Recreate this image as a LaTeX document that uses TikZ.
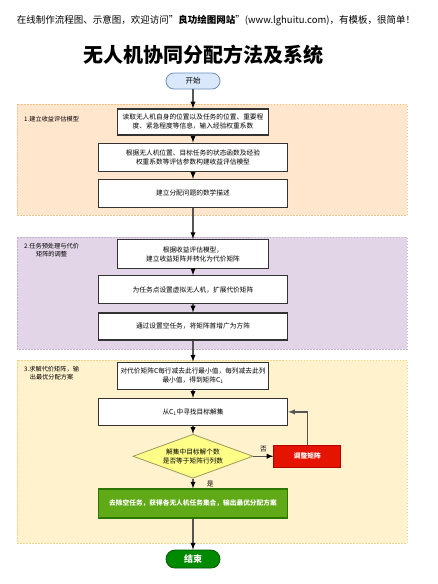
\documentclass[tikz,border=0pt]{standalone}
\usepackage{fontspec}
\setmainfont{Noto Sans CJK SC}
\usepackage{tikz}
\usetikzlibrary{matrix,arrows,positioning,shapes.geometric}

\definecolor{startblue}{HTML}{DAE8FC}
\definecolor{startline}{HTML}{6C8EBF}
\definecolor{boxline}{HTML}{333333}
\definecolor{flowgray}{HTML}{555555}
\definecolor{orangefill}{HTML}{FFE6CC}
\definecolor{orangeline}{HTML}{F2C28C}
\definecolor{purplefill}{HTML}{E1D5E7}
\definecolor{purpleline}{HTML}{C2AFD0}
\definecolor{yellowfill}{HTML}{FFF2CC}
\definecolor{yellowline}{HTML}{EDD68A}
\definecolor{decisionfill}{HTML}{FFFF88}
\definecolor{decisionline}{HTML}{9A9A5A}
\definecolor{adjustred}{HTML}{E51400}
\definecolor{adjustline}{HTML}{B20000}
\definecolor{outgreen}{HTML}{60A917}
\definecolor{outline}{HTML}{2D7600}
\definecolor{endgreen}{HTML}{008A00}
\definecolor{endline}{HTML}{005700}

\newcommand{\boxfont}{\fontsize{6.7}{9}\selectfont}

\begin{document}
\begin{tikzpicture}[x=1pt, y=-1pt,
  stepbox/.style={draw=boxline, line width=1.2pt, fill=white, align=center,
    inner sep=1.5pt, minimum width=189pt, minimum height=28pt, font=\boxfont},
  narrowbox/.style={stepbox, minimum width=151pt},
  terminal/.style={rounded corners=8pt, draw=startline, fill=startblue, line width=0.8pt,
    minimum width=54pt, minimum height=16pt, inner sep=1pt, font=\fontsize{7.5}{9}\selectfont},
  decision/.style={diamond, aspect=2.7, draw=decisionline, fill=decisionfill, line width=0.8pt,
    minimum width=120pt, minimum height=44pt, inner sep=0pt, align=center, font=\boxfont},
  panel/.style={line width=0.6pt, dash pattern=on 1.5pt off 1.5pt},
  grouplabel/.style={align=center, inner sep=0pt, font=\fontsize{6.2}{8.5}\selectfont},
  flow/.style={draw=flowgray, line width=1.3pt, >=latex}
  ]
\useasboundingbox (0,0) rectangle (438,584);

% header and title
\node[font=\fontsize{9.5}{11}\selectfont] (head) at (216,21)
  {在线制作流程图、示意图，欢迎访问"\textbf{良功绘图网站}"(www.lghuitu.com)，有模板，很简单！};
\node[font=\fontsize{20}{24}\selectfont\bfseries] (title) at (203,55) {无人机协同分配方法及系统};

% background panels
\draw[panel, fill=orangefill, draw=orangeline] (17,104) rectangle (407,215);
\draw[panel, fill=purplefill, draw=purpleline] (17,237) rectangle (407,349);
\draw[panel, fill=yellowfill, draw=yellowline] (17,360) rectangle (407,543);

\node[grouplabel, anchor=north west] (lab1) at (24,116) {1.建立收益评估模型};
\node[grouplabel, anchor=north west] (lab2) at (24,243) {2.任务预处理与代价\\矩阵的调整};
\node[grouplabel, anchor=north west] (lab3) at (24,366) {3.求解代价矩阵，输\\出最优分配方案};

\matrix (m) [row sep=7pt, matrix anchor=start.center] at (193,81)
{
\node[terminal] (start) {开始}; \\[12pt]
\node[narrowbox, minimum height=26pt] (read) {读取无人机自身的位置以及任务的位置、重要程\\度、紧急程度等信息，输入经验权重系数}; \\
\node[stepbox] (model) {根据无人机位置、目标任务的状态函数及经验\\权重系数等评估参数构建收益评估模型}; \\
\node[stepbox] (describe) {建立分配问题的数学描述}; \\[24pt]
\node[narrowbox, minimum height=29pt] (cost) {根据收益评估模型，\\建立收益矩阵并转化为代价矩阵}; \\[-1pt]
\node[stepbox] (virtual) {为任务点设置虚拟无人机，扩展代价矩阵}; \\[1pt]
\node[stepbox, minimum height=27pt] (square) {通过设置空任务，将矩阵首增广为方阵}; \\[14pt]
\node[narrowbox, minimum height=27pt] (reduce) {对代价矩阵C每行减去此行最小值，每列减去此列\\最小值，得到矩阵C\textsubscript{1}}; \\[1pt]
\node[stepbox, minimum height=27pt] (search) {从C\textsubscript{1}中寻找目标解集}; \\[1pt]
\node[decision] (check) {解集中目标解个数\\是否等于矩阵行列数}; \\[3pt]
\node[stepbox, draw=outline, fill=outgreen, text=white, font=\boxfont\bfseries, minimum height=29pt] (output) {去除空任务，获得各无人机任务集合，输出最优分配方案}; \\[24pt]
\node[terminal, draw=endline, fill=endgreen, text=white, minimum height=18pt, rounded corners=9pt, font=\fontsize{9}{11}\selectfont\bfseries] (finish) {结束}; \\
};

\node[draw=adjustline, fill=adjustred, text=white, line width=0.8pt, minimum width=67pt,
  minimum height=22pt, inner sep=1pt, font=\boxfont\bfseries, right=20pt of check] (adjust) {调整矩阵};

\path[->, flow]
  (start) edge (read)
  (read) edge (model)
  (model) edge (describe)
  (describe) edge (cost)
  (cost) edge (virtual)
  (virtual) edge (square)
  (square) edge (reduce)
  (reduce) edge (search)
  (search) edge (check)
  (check) edge node [auto, font=\boxfont, text=black, xshift=10pt, pos=0.6] {是} (output)
          edge node [auto, font=\boxfont, text=black] {否} (adjust)
  (output) edge (finish)
  ;
\draw[->, flow] (adjust) |- (search);
\end{tikzpicture}
\end{document}
